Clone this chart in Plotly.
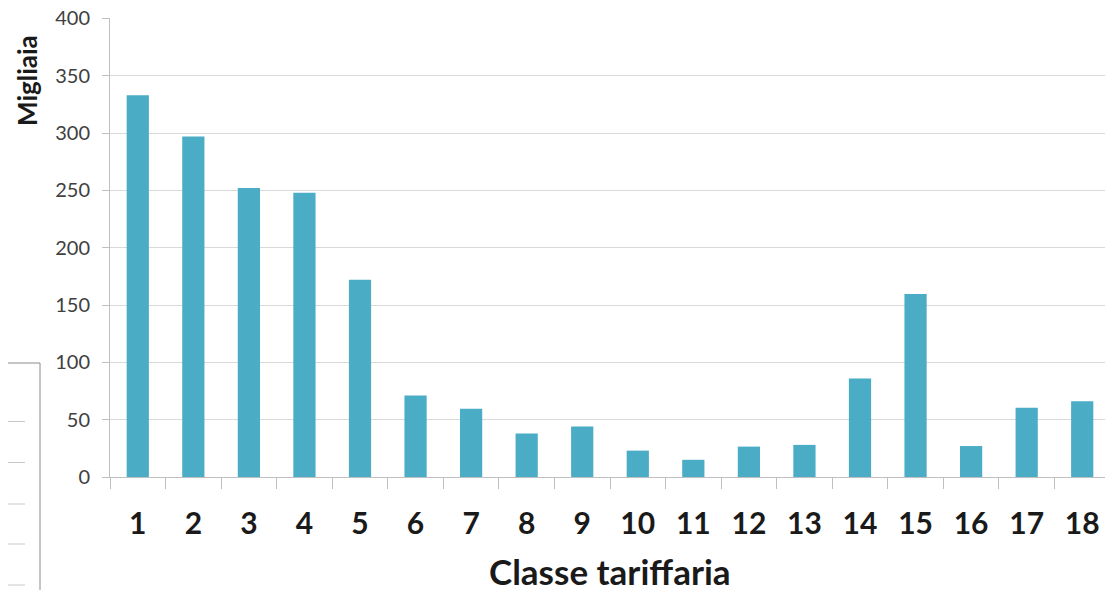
import plotly.graph_objects as go

categories = [str(i) for i in range(1, 19)]
values = [333, 297, 252, 248, 172, 71, 59.5, 38, 44, 23, 15, 26.5, 28, 86, 159.5, 27, 60.5, 66]
y_ticks = [0, 50, 100, 150, 200, 250, 300, 350, 400]

# page body has an 8px margin; size the figure to the visible area
OFF = 8
W, H = 1113 - OFF, 590 - OFF
ML, MR, MT, MB = 110 - OFF, 3, 18 - OFF, 113
PW = W - ML - MR
PH = H - MT - MB

def px(x):
    return (x - OFF - ML) / PW

def py(y):
    return (H - MB - (y - OFF)) / PH

fig = go.Figure()
fig.add_trace(go.Bar(
    x=categories, y=values,
    marker=dict(color="#4BACC6", line=dict(width=0)),
    showlegend=False,
))

shapes = [
    dict(type="line", xref="paper", yref="paper", x0=px(40), x1=px(40), y0=py(363), y1=py(600),
         line=dict(color="#8c8c8c", width=1)),
    dict(type="line", xref="paper", yref="paper", x0=px(-5), x1=px(40), y0=py(363), y1=py(363),
         line=dict(color="#8c8c8c", width=1)),
]
for yy in [421.5, 462.5, 504, 544, 585]:
    shapes.append(dict(type="line", xref="paper", yref="paper", x0=px(-5), x1=px(25),
                       y0=py(yy), y1=py(yy), line=dict(color="#c8c8c8", width=1)))

fig.update_layout(
    width=W, height=H,
    margin=dict(l=ML, r=MR, t=MT, b=MB, autoexpand=False),
    paper_bgcolor="white", plot_bgcolor="white",
    bargap=0.6,
    font=dict(family="Lato, sans-serif", color="#404040"),
    xaxis=dict(
        type="category", tickson="boundaries", ticks="outside", ticklen=11,
        tickcolor="#bfbfbf", showline=True, linecolor="#bfbfbf", linewidth=1,
        showgrid=False, automargin=False, ticklabeloverflow="allow",
        tickfont=dict(size=30, color="#1a1a1a", family="Lato, sans-serif", weight="bold"),
        ticklabelstandoff=20,
    ),
    yaxis=dict(
        range=[0, 400.3], tickvals=y_ticks, ticks="outside", ticklen=7,
        tickcolor="#bfbfbf", showline=True, linecolor="#bfbfbf", linewidth=1,
        gridcolor="#d9d9d9", gridwidth=1, zeroline=False, automargin=False,
        ticklabeloverflow="allow",
        tickfont=dict(size=20, color="#404040"), ticklabelstandoff=8,
    ),
    shapes=shapes,
    annotations=[
        dict(text="<b>Migliaia</b>", xref="paper", yref="paper", x=px(27), y=py(81),
             textangle=-90, showarrow=False, font=dict(size=26, color="#1a1a1a"),
             xanchor="center", yanchor="middle"),
        dict(text="<b>Classe tariffaria</b>", xref="paper", yref="paper", x=px(610), y=py(571),
             showarrow=False, font=dict(size=35, color="#1a1a1a"),
             xanchor="center", yanchor="middle"),
    ],
)

fig.write_html("out.html")
